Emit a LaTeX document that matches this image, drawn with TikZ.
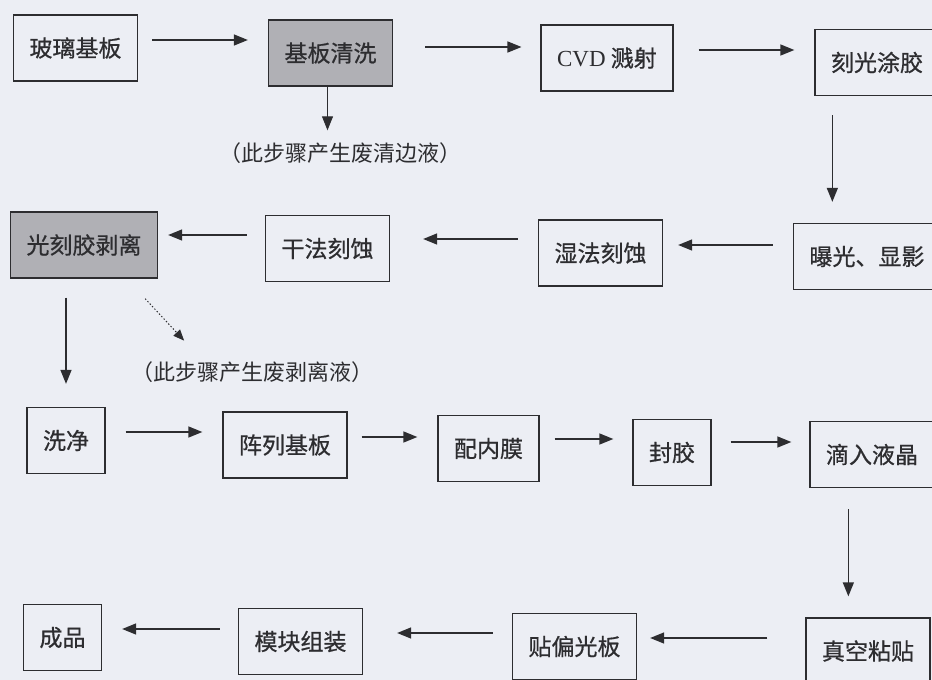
\documentclass[tikz,border=0pt]{standalone}
\usepackage{fontspec}
\setmainfont{Liberation Serif}
\newfontfamily\cjk[FakeBold=0.7]{Noto Sans CJK SC}
\newfontfamily\cjknote{Noto Sans CJK SC}
\usetikzlibrary{calc,arrows.meta}
\definecolor{paper}{RGB}{236,238,244}
\definecolor{ink}{RGB}{45,45,48}
\definecolor{shade}{RGB}{176,176,181}
\def\stepnode{\node[draw=ink,line width=1.3pt,text=ink,font=\cjk\fontsize{23}{27}\selectfont,inner xsep=16pt,minimum height=66pt]}
\def\wastenode{\node[text=ink,font=\cjknote\fontsize{22}{26}\selectfont,inner sep=1pt]}
\def\drawflow{\draw[ink,line width=1.4pt,-{Triangle[length=14pt,width=11pt]}]}

\begin{document}
\begin{tikzpicture}[x=1pt,y=-1pt]
\useasboundingbox (0,0) rectangle (932,680);
\fill[paper] (0,0) rectangle (932,680);

% -------- row 1 ---------
\stepnode (glass) at (75.5,48) {玻璃基板};
\stepnode[fill=shade] (clean) at (330.5,53) {基板清洗};
\stepnode (cvd) at (607,58) {{\rmfamily CVD} 溅射};
\stepnode (coat) at (877,62.5) {刻光涂胶};
\wastenode (cleanwaste) at (340,153) {（此步骤产生废清边液）};

\drawflow[shorten <=14pt,shorten >=20pt] ($ (glass.east) + (0,-8) $) -- ($ (glass.east -| clean.west) + (0,-8) $);
\drawflow[shorten <=32pt,shorten >=19pt] ($ (clean.east) + (0,-6) $) -- ($ (clean.east -| cvd.west) + (0,-6) $);
\drawflow[shorten <=25pt,shorten >=20pt] ($ (cvd.east) + (0,-8) $) -- ($ (cvd.east -| coat.west) + (0,-8) $);
\drawflow[line width=0.9pt,shorten >=11pt] ($ (clean.south) + (-3,0) $) -- ($ (clean.south |- cleanwaste.north) + (-3,0) $);
% ------ end row 1 ------

% -------- row 2 (right to left) ---------
\stepnode (expose) at (867,256.5) {曝光、显影};
\stepnode (wet) at (600.5,253) {湿法刻蚀};
\stepnode (dry) at (327.5,248.5) {干法刻蚀};
\stepnode[fill=shade] (strip) at (84,245) {光刻胶剥离};
\wastenode (stripwaste) at (252,372) {（此步骤产生废剥离液）};

\drawflow[shorten <=19pt,shorten >=21pt] ($ (coat.south west) + (18,0) $) -- ($ (coat.south west |- expose.north) + (18,0) $);
\drawflow[shorten <=20pt,shorten >=15pt] ($ (expose.west) + (0,-11.5) $) -- ($ (expose.west -| wet.east) + (0,-11.5) $);
\drawflow[shorten <=20pt,shorten >=33pt] ($ (wet.west) + (0,-14) $) -- ($ (wet.west -| dry.east) + (0,-14) $);
\drawflow[shorten <=18pt,shorten >=10pt] ($ (dry.west) + (0,-13.5) $) -- ($ (dry.west -| strip.east) + (0,-13.5) $);

% dotted side branch: the waste liquid of the stripping step
\coordinate (dotstart) at ($ (strip.south east) + (-13,20) $);
\coordinate (dotend) at ($ (dotstart) + (39,42) $);
\drawflow[dotted,line width=1pt,-{Triangle[length=11pt,width=9pt]}] (dotstart) -- (dotend);
% ------ end row 2 ------

% -------- row 3 ---------
\stepnode (wash) at (66,440.5) {洗净};
\stepnode (array) at (285,445) {阵列基板};
\stepnode (align) at (488.5,448.5) {配内膜};
\stepnode (seal) at (672,452.5) {封胶};
\stepnode (lc) at (872,454.5) {滴入液晶};

\drawflow[shorten <=19pt,shorten >=23pt] (wash.north |- strip.south) -- (wash.north);
\drawflow[shorten <=20pt,shorten >=20pt] ($ (wash.east) + (0,-8.5) $) -- ($ (wash.east -| array.west) + (0,-8.5) $);
\drawflow[shorten <=14pt,shorten >=20pt] ($ (array.east) + (0,-8) $) -- ($ (array.east -| align.west) + (0,-8) $);
\drawflow[shorten <=15pt,shorten >=19pt] ($ (align.east) + (0,-9.5) $) -- ($ (align.east -| seal.west) + (0,-9.5) $);
\drawflow[shorten <=19pt,shorten >=18pt] ($ (seal.east) + (0,-10.5) $) -- ($ (seal.east -| lc.west) + (0,-10.5) $);
% ------ end row 3 ------

% -------- row 4 (right to left) ---------
\stepnode (vac) at (868,651) {真空粘贴};
\stepnode (pol) at (574.5,646.5) {贴偏光板};
\stepnode (mod) at (300.5,641.5) {模块组装};
\stepnode (done) at (62.5,637.5) {成品};

\drawflow[shorten <=21pt,shorten >=21pt] ($ (lc.south west) + (39,0) $) -- ($ (lc.south west |- vac.north) + (39,0) $);
\drawflow[shorten <=38pt,shorten >=13pt] ($ (vac.west) + (0,-13) $) -- ($ (vac.west -| pol.east) + (0,-13) $);
\drawflow[shorten <=19pt,shorten >=34pt] ($ (pol.west) + (0,-13.5) $) -- ($ (pol.west -| mod.east) + (0,-13.5) $);
\drawflow[shorten <=18pt,shorten >=20pt] ($ (mod.west) + (0,-12.5) $) -- ($ (mod.west -| done.east) + (0,-12.5) $);
% ------ end row 4 ------
\end{tikzpicture}
\end{document}
